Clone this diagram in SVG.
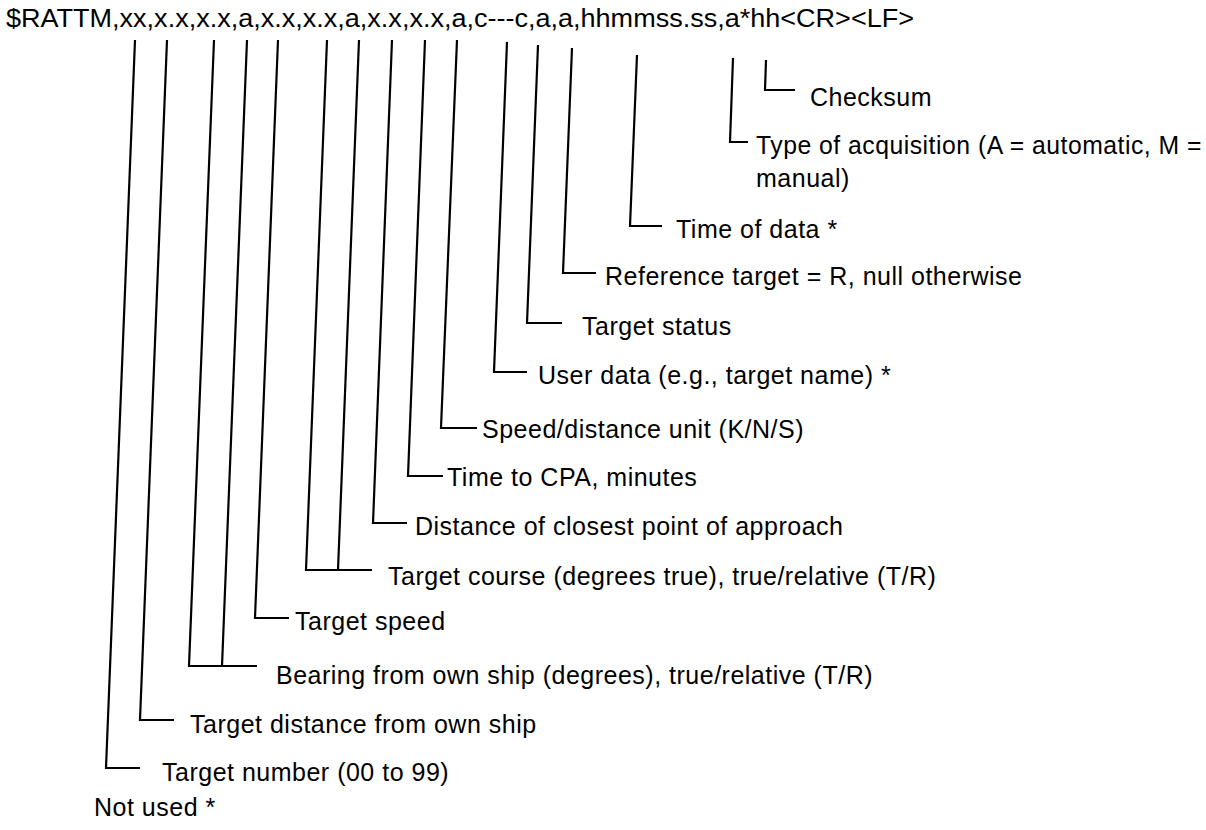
<svg xmlns="http://www.w3.org/2000/svg" width="1206" height="830" viewBox="0 0 1206 830">
<style>
.bg{fill:#ffffff}
.hdr{font-family:"Liberation Sans",Arial,sans-serif;font-size:25px;fill:#000}
.lbl{font-family:"Liberation Sans",Arial,sans-serif;font-size:25px;letter-spacing:0.5px;fill:#000}
.ln{fill:none;stroke:#000;stroke-width:2.2;stroke-linejoin:miter;stroke-linecap:butt}
</style>
<rect class="bg" x="0" y="0" width="1206" height="830"/>
<g id="header">
<text class="hdr" x="6" y="27" textLength="908" lengthAdjust="spacingAndGlyphs">$RATTM,xx,x.x,x.x,a,x.x,x.x,a,x.x,x.x,a,c---c,a,a,hhmmss.ss,a*hh&lt;CR&gt;&lt;LF&gt;</text>
</g>
<g id="connectors">
<path class="ln" d="M135,40 L106,768 L140,768"/>
<path class="ln" d="M167,40 L140,720 L174,720"/>
<path class="ln" d="M214,40 L189,666 L257,666 M247,40 L222,666"/>
<path class="ln" d="M278,40 L255,618 L289,618"/>
<path class="ln" d="M327,40 L306,570 L372,570 M359,40 L338,570"/>
<path class="ln" d="M392,40 L373,523 L407,523"/>
<path class="ln" d="M425,40 L408,476 L443,476"/>
<path class="ln" d="M457,40 L441,428 L477,428"/>
<path class="ln" d="M507,42 L494,372 L527,372"/>
<path class="ln" d="M538,45 L527,323 L562,323"/>
<path class="ln" d="M572,48 L563,273 L596,273"/>
<path class="ln" d="M637,55 L630,226 L662,226"/>
<path class="ln" d="M733,58 L730,142 L748,142"/>
<path class="ln" d="M766,60 L765,90 L795,90"/>
</g>
<g id="n-checksum"><text class="lbl" x="810" y="106">Checksum</text></g>
<g id="n-type"><text class="lbl" x="756" y="154" textLength="446" lengthAdjust="spacingAndGlyphs">Type of acquisition (A = automatic, M =</text><text class="lbl" x="756" y="187">manual)</text></g>
<g id="n-time"><text class="lbl" x="676" y="238">Time of data *</text></g>
<g id="n-ref"><text class="lbl" x="605" y="285">Reference target = R, null otherwise</text></g>
<g id="n-status"><text class="lbl" x="582" y="335">Target status</text></g>
<g id="n-user"><text class="lbl" x="538" y="384">User data (e.g., target name) *</text></g>
<g id="n-unit"><text class="lbl" x="482" y="438">Speed/distance unit (K/N/S)</text></g>
<g id="n-tcpa"><text class="lbl" x="447" y="486">Time to CPA, minutes</text></g>
<g id="n-dcpa"><text class="lbl" x="415" y="535">Distance of closest point of approach</text></g>
<g id="n-course"><text class="lbl" x="388" y="585">Target course (degrees true), true/relative (T/R)</text></g>
<g id="n-speed"><text class="lbl" x="295" y="630">Target speed</text></g>
<g id="n-bearing"><text class="lbl" x="276" y="684">Bearing from own ship (degrees), true/relative (T/R)</text></g>
<g id="n-distance"><text class="lbl" x="190" y="733">Target distance from own ship</text></g>
<g id="n-number"><text class="lbl" x="162" y="781">Target number (00 to 99)</text></g>
<g id="n-notused"><text class="lbl" x="94" y="816">Not used *</text></g>
</svg>
